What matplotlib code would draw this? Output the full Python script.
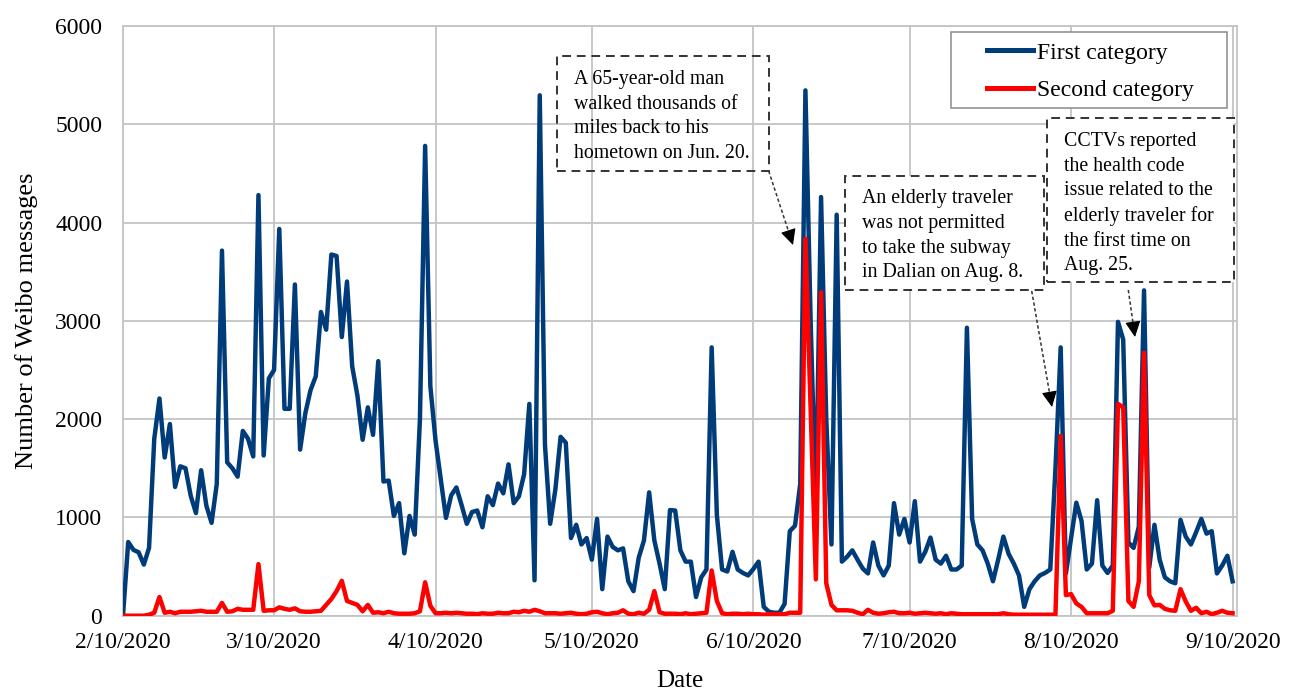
import matplotlib
matplotlib.use("Agg")
import matplotlib.pyplot as plt
import pandas as pd
from matplotlib.patches import Rectangle, FancyArrowPatch
from matplotlib.lines import Line2D

plt.rcParams['font.family'] = ['Liberation Serif', 'DejaVu Serif']

start_date = "2020-02-10"

first_category = [
    0, 750, 670, 645, 520, 690, 1800, 2210, 1610, 1950,
    1310, 1520, 1500, 1220, 1045, 1480, 1120, 945, 1340, 3715,
    1560, 1500, 1415, 1880, 1800, 1620, 4280, 1630, 2415, 2500,
    3935, 2105, 2105, 3370, 1690, 2060, 2295, 2435, 3090, 2910,
    3675, 3660, 2835, 3400, 2535, 2240, 1790, 2120, 1840, 2590,
    1365, 1375, 1015, 1145, 635, 1015, 825, 2000, 4780, 2335,
    1780, 1385, 995, 1225, 1305, 1125, 935, 1055, 1070, 900,
    1215, 1125, 1345, 1245, 1540, 1145, 1215, 1440, 2155, 360,
    5295, 1740, 935, 1285, 1820, 1760, 790, 925, 725, 790,
    570, 985, 270, 805, 700, 665, 685, 350, 250, 590,
    765, 1255, 765, 530, 270, 1075, 1070, 665, 550, 550,
    190, 390, 470, 2730, 1025, 470, 450, 650, 470, 435,
    410, 475, 550, 90, 40, 30, 30, 120, 860, 915,
    1340, 5345, 3000, 1100, 4260, 2000, 725, 4080, 550, 600,
    665, 570, 480, 430, 745, 510, 410, 510, 1145, 825,
    985, 745, 1165, 550, 650, 795, 570, 530, 610, 470,
    470, 510, 2930, 985, 725, 665, 530, 350, 570, 805,
    630, 530, 410, 90, 270, 350, 410, 435, 470, 1500,
    2730, 430, 790, 1150, 965, 470, 530, 1175, 510, 435,
    510, 2990, 2810, 745, 690, 905, 3310, 490, 925, 570,
    390, 350, 330, 975, 805, 725, 850, 985, 835, 860,
    430, 510, 610, 350,
]

second_category = [
    0, 0, 0, 0, 0, 10, 30, 190, 30, 40,
    25, 40, 40, 40, 45, 50, 40, 40, 40, 130,
    40, 45, 70, 60, 60, 60, 525, 50, 55, 55,
    85, 70, 60, 75, 45, 40, 40, 45, 50, 110,
    170, 250, 355, 150, 130, 110, 45, 110, 30, 35,
    25, 40, 25, 20, 20, 20, 25, 45, 340, 100,
    25, 25, 30, 25, 30, 25, 20, 20, 15, 25,
    20, 20, 30, 25, 25, 40, 35, 50, 40, 60,
    45, 25, 25, 25, 20, 25, 30, 20, 15, 20,
    35, 40, 25, 15, 25, 30, 55, 20, 15, 30,
    20, 60, 250, 35, 20, 20, 20, 15, 25, 15,
    20, 25, 30, 460, 150, 25, 15, 20, 20, 15,
    20, 15, 15, 10, 15, 15, 15, 15, 30, 30,
    30, 3835, 2100, 370, 3290, 330, 110, 55, 55, 55,
    50, 30, 15, 60, 30, 20, 25, 35, 40, 25,
    25, 30, 20, 25, 30, 25, 20, 25, 15, 25,
    20, 15, 15, 15, 15, 15, 15, 15, 15, 25,
    15, 10, 10, 10, 10, 10, 10, 10, 10, 10,
    1830, 210, 220, 125, 90, 25, 25, 25, 25, 25,
    50, 2155, 2120, 150, 90, 350, 2675, 210, 105, 110,
    70, 55, 50, 270, 145, 50, 80, 25, 40, 15,
    30, 50, 30, 25,
]

tick_dates = ["2020-02-10", "2020-03-10", "2020-04-10", "2020-05-10",
              "2020-06-10", "2020-07-10", "2020-08-10", "2020-09-10"]
tick_labels = ["2/10/2020", "3/10/2020", "4/10/2020", "5/10/2020",
               "6/10/2020", "7/10/2020", "8/10/2020", "9/10/2020"]
y_ticks = [0, 1000, 2000, 3000, 4000, 5000, 6000]

series_labels = ["First category", "Second category"]

notes = [
    "A 65-year-old man\nwalked thousands of\nmiles back to his\nhometown on Jun. 20.",
    "An elderly traveler\nwas not permitted\nto take the subway\nin Dalian on Aug. 8.",
    "CCTVs reported\nthe health code\nissue related to the\nelderly traveler for\nthe first time on\nAug. 25.",
]

W, H = 1293, 690
fig = plt.figure(figsize=(W / 100, H / 100), dpi=100)


def fx(x):
    return x / W


def fy(y):
    return 1 - y / H


ax_left, ax_right, ax_top, ax_bottom = 123, 1236.5, 26, 615.7
ax = fig.add_axes([fx(ax_left), fy(ax_bottom), (ax_right - ax_left) / W, (ax_bottom - ax_top) / H])

dates = pd.date_range(start_date, periods=len(first_category), freq="D")
blue = "#003c7a"
red = "#ff0000"
ax.plot(dates, first_category, color=blue, lw=3.2, solid_joinstyle="round", label=series_labels[0], zorder=3)
ax.plot(dates, second_category, color=red, lw=3.2, solid_joinstyle="round", label=series_labels[1], zorder=4)

tdates = pd.to_datetime(tick_dates)
ax.set_xticks(tdates)
ax.set_xticklabels(tick_labels)
ax.set_xlim(tdates[0], tdates[-1] + pd.Timedelta(hours=18))
ax.set_ylim(0, 6000)
ax.set_yticks(y_ticks)
ax.set_yticklabels([str(v) for v in y_ticks])

grid_c = "#c4c4c4"
ax.grid(True, color=grid_c, lw=1.3, zorder=0)
ax.set_axisbelow(True)
for s in ax.spines.values():
    s.set_color(grid_c)
    s.set_linewidth(1.3)
ax.tick_params(axis="both", length=0, labelsize=17)
ax.tick_params(axis="x", pad=12)
ax.tick_params(axis="y", pad=15)

ax.set_xlabel("Date", fontsize=18)
ax.xaxis.set_label_coords(0.5, -0.092)
ax.set_ylabel("Number of Weibo messages", fontsize=19)
ax.yaxis.set_label_coords(-0.076, 0.5)

# legend frame (white, behind legend entries)
ax.add_patch(Rectangle((fx(951), fy(108.3)), fx(1226.7 - 951), (108.3 - 32.3) / H,
                       transform=fig.transFigure, fc="white", ec="#8a8a8a", lw=1.1,
                       zorder=6, clip_on=False))
leg = ax.legend(loc="upper left", bbox_to_anchor=(fx(987), fy(42)), bbox_transform=fig.transFigure,
                frameon=False, fontsize=17, handlelength=1.95, handletextpad=0.15,
                borderpad=0, borderaxespad=0, labelspacing=0.68)
for ln in leg.get_lines():
    ln.set_linewidth(3.6)
leg.set_zorder(7)

# annotation boxes: (x0, y0, x1, y1, text_x, text_y_top, filled)
boxes = [
    (557.3, 55.7, 768.7, 170.7, 574, 70, False),
    (845, 175.7, 1044, 290, 861.5, 189.5, True),
    (1047.3, 118.3, 1234, 282.3, 1063.5, 132, True),
]
for (x0, y0, x1, y1, tx, ty, filled), txt in zip(boxes, notes):
    rect = Rectangle((fx(x0), fy(y1)), (x1 - x0) / W, (y1 - y0) / H, transform=fig.transFigure,
                     fc="white" if filled else "none", ec="#333333", lw=1.4,
                     ls=(0, (4.5, 3)), zorder=2)
    fig.patches.append(rect)
    fig.text(fx(tx), fy(ty), txt, ha="left", va="top", fontsize=14.3, linespacing=1.4, zorder=3)

# arrows: (start, tip)
arrows = [
    ((768.7, 171), (793, 245)),
    ((1031.7, 291), (1052, 407)),
    ((1128.3, 290), (1135, 337)),
]
for (sx, sy), (ex, ey) in arrows:
    dx, dy = ex - sx, ey - sy
    L = (dx ** 2 + dy ** 2) ** 0.5
    hl = 13
    bx, by = ex - dx / L * hl, ey - dy / L * hl
    fig.lines.append(Line2D([fx(sx), fx(bx)], [fy(sy), fy(by)], transform=fig.transFigure,
                            color="#333333", lw=1.1, ls=(0, (2.2, 1.6)), zorder=3))
    fig.patches.append(FancyArrowPatch((fx(bx + dx / L * 1), fy(by + dy / L * 1)), (fx(ex), fy(ey)),
                                       transform=fig.transFigure,
                                       arrowstyle="-|>,head_length=0.65,head_width=0.32",
                                       mutation_scale=15, color="black", lw=0.8,
                                       shrinkA=0, shrinkB=0, zorder=4))

fig.savefig("out.png", dpi=100)
